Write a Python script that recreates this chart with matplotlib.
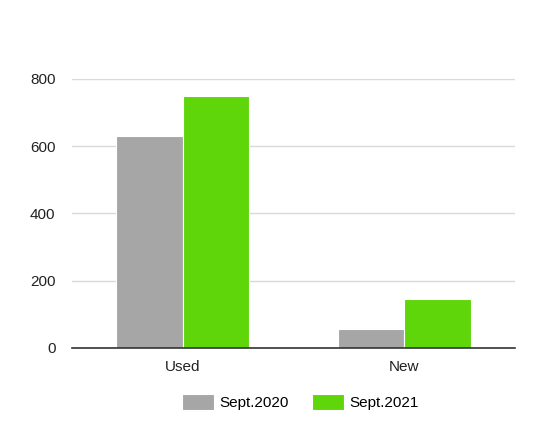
import matplotlib.pyplot as plt
import numpy as np

plt.rcParams['font.family'] = ['Liberation Sans', 'DejaVu Sans']

# Data
categories = ['Used', 'New']
sept2020 = [631, 57]
sept2021 = [750, 146]
series_labels = ['Sept.2020', 'Sept.2021']

fig = plt.figure(figsize=(5.5, 4.29), dpi=100)
ax = fig.add_axes([0.131, 0.189, 0.805, 0.627])

x = np.arange(len(categories))
w = 0.30
ax.bar(x - w / 2, sept2020, w, color='#a6a6a6', edgecolor='white', linewidth=0.8,
       label=series_labels[0], zorder=3)
ax.bar(x + w / 2, sept2021, w, color='#5fd60a', edgecolor='white', linewidth=0.8,
       label=series_labels[1], zorder=3)

ax.set_xlim(-0.5, 1.5)
ax.set_ylim(0, 800)
ax.set_yticks([0, 200, 400, 600, 800])
ax.set_xticks(x)
ax.set_xticklabels(categories)
ax.grid(axis='y', color='#d9d9d9', linewidth=1, zorder=0)
ax.tick_params(length=0, labelsize=11, colors='#222222')
ax.tick_params(axis='x', pad=9)
ax.tick_params(axis='y', pad=12)
for s in ['top', 'right', 'left']:
    ax.spines[s].set_visible(False)
ax.spines['bottom'].set_color('#333333')
ax.spines['bottom'].set_linewidth(1.2)
ax.spines['bottom'].set_zorder(4)

fig.legend(loc='center', bbox_to_anchor=(0.546, 0.062), ncol=2, frameon=False,
           fontsize=11, handlelength=2.1, handleheight=1.2, columnspacing=1.5,
           handletextpad=0.35)

fig.savefig('out.png', dpi=100)
